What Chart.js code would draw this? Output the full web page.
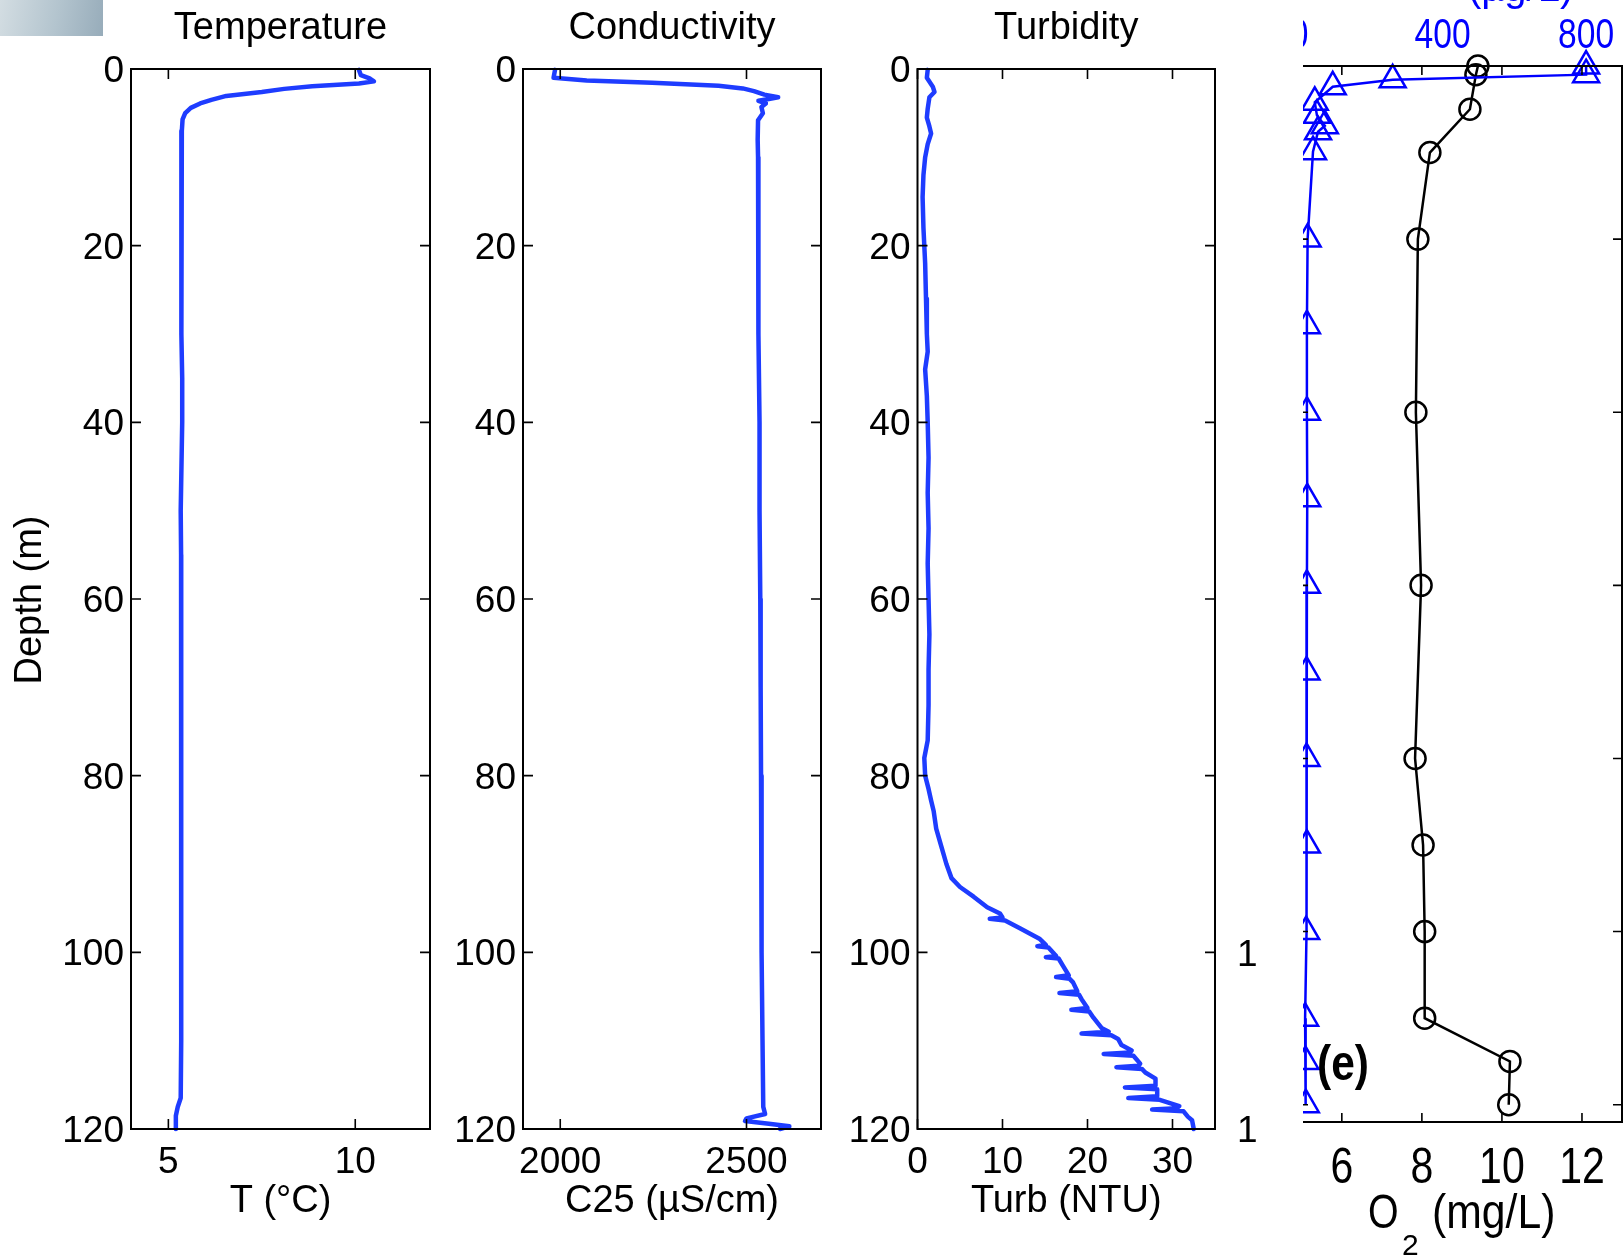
<!DOCTYPE html>
<html>
<head>
<meta charset="utf-8">
<script src="https://cdn.jsdelivr.net/npm/chart.js@4.4.0/dist/chart.umd.min.js"></script>
<style>
  body { margin: 0; background: #fff; width: 1624px; height: 1260px; overflow: hidden; position: relative; }
  canvas { position: absolute; left: 0; top: 0; }
  #corner { position: absolute; left: 0; top: 0; width: 103px; height: 36px;
    background: linear-gradient(100deg, #d3dde2 0%, #b3c4ce 55%, #97acba 100%); }
  #crop { position: absolute; left: 1303px; top: 0; width: 321px; height: 1260px; overflow: hidden; }
  #crop canvas { left: -1303px; }
</style>
</head>
<body>
<div id="corner"></div>
<canvas id="temp" width="1624" height="1260"></canvas>
<canvas id="cond" width="1624" height="1260"></canvas>
<canvas id="turb" width="1624" height="1260"></canvas>
<div id="crop"><canvas id="oxy" width="1624" height="1260"></canvas></div>

<script>
// depth ticks shared by the CTD panels
const depthTicks = [0, 20, 40, 60, 80, 100, 120];

// temperature profile (deg C)
const tempDepth = [0.1, 0.7, 1.1, 1.4, 1.65, 1.95, 2.25, 2.6, 3.05, 3.5, 3.9, 4.4, 5.0, 5.7, 7, 10, 15, 20, 25, 30, 35, 40, 45, 50, 55, 60, 70, 80, 90, 100, 110, 116.5, 117.5, 118.5, 120];
const tempVals = [10.1, 10.15, 10.4, 10.5, 10.1, 8.85, 8.1, 7.5, 6.55, 6.15, 5.85, 5.6, 5.45, 5.38, 5.36, 5.35, 5.34, 5.34, 5.35, 5.36, 5.37, 5.37, 5.35, 5.33, 5.34, 5.34, 5.35, 5.35, 5.34, 5.34, 5.34, 5.33, 5.25, 5.2, 5.2];
const tempTicks = [5, 10];

// conductivity profile (uS/cm)
const condDepth = [0.1, 1.0, 1.3, 1.55, 1.9, 2.2, 2.5, 2.9, 3.2, 3.4, 3.6, 3.9, 4.3, 5.0, 5.8, 8, 10, 20, 30, 40, 50, 60, 70, 80, 90, 100, 110, 117.5, 118.3, 118.8, 119.1, 119.4, 119.7, 120];
const condVals = [1986, 1982, 2071, 2247, 2425, 2490, 2520, 2548, 2585, 2560, 2532, 2552, 2540, 2544, 2531, 2530, 2531, 2531, 2533, 2535, 2535, 2537, 2538, 2539, 2540, 2541, 2543, 2545, 2550, 2500, 2496, 2560, 2615, 2590];
const condTicks = [2000, 2500];

// turbidity profile (NTU)
const turbDepth = [0.1, 1.0, 2.0, 2.6, 3.2, 4.5, 5.5, 6.5, 7.3, 8.5, 10, 12, 14.5, 18, 22, 26, 30, 32, 34, 37, 40, 44, 48, 52, 56, 60, 64, 68, 72, 76, 78, 80, 81.5, 82.8, 84, 86, 88, 90, 91.6, 92.6, 93.7, 94.9, 95.6,
  96.05, 96.2, 96.4, 97.3, 98.5, 99.15, 99.3, 99.45, 100.2, 100.4, 100.55, 100.7, 101.5, 102.6, 102.8, 103.0, 103.4, 104.4, 104.6, 104.8, 105.3, 106.3, 106.5, 106.7, 107.4, 108.6, 109.0, 109.2, 109.4, 109.8, 110.5,
  111.1, 111.35, 111.5, 111.7, 112.6, 112.85, 113.0, 113.2, 113.6, 114.3, 115.1, 115.3, 115.5, 116.3, 116.5, 116.7, 117.4, 117.65, 117.8, 118.0, 118.6, 119.0, 120];
const turbVals = [1.2, 1.1, 1.8, 2.0, 1.4, 1.2, 1.1, 1.4, 1.6, 1.2, 0.9, 0.7, 0.6, 0.7, 0.9, 1.0, 1.1, 1.2, 0.9, 1.1, 1.2, 1.3, 1.2, 1.3, 1.2, 1.3, 1.4, 1.3, 1.3, 1.2, 0.8, 0.9, 1.3, 1.6, 1.9, 2.2, 2.8, 3.4, 4.0, 5.0, 6.6, 8.2, 9.7,
  10.0, 8.5, 10.3, 12.1, 14.4, 15.1, 14.1, 15.4, 16.1, 16.3, 15.1, 16.6, 17.1, 17.8, 16.3, 17.9, 18.3, 18.8, 16.7, 19.0, 19.3, 20.0, 18.1, 20.2, 20.7, 21.7, 22.5, 19.3, 22.8, 23.6, 24.0,
  25.2, 25.0, 21.9, 25.4, 26.2, 26.0, 23.4, 26.4, 26.8, 28.0, 28.0, 24.4, 28.2, 28.2, 24.8, 28.5, 30.8, 30.5, 27.6, 31.3, 31.8, 32.3, 32.5];
const turbTicks = [0, 10, 20, 30];

// bottle samples: dissolved oxygen (mg/L) and chlorophyll (ug/L)
const oxyDepth = [0, 1, 5, 10, 20, 40, 60, 80, 90, 100, 110, 115, 120];
const oxyVals = [9.4, 9.35, 9.2, 8.2, 7.9, 7.85, 7.98, 7.83, 8.03, 8.07, 8.07, 10.2, 10.17];
const oxyTicks = [6, 8, 10, 12];
const chlDepth = [0, 1, 1.6, 2.4, 4.2, 5.7, 6.9, 7.6, 9.9, 20, 30, 40, 50, 60, 70, 80, 90, 100, 110, 115, 120];
const chlVals = [800, 800, 261, 94, 44, 50, 72, 53, 39, 24, 22, 22, 23, 22, 21, 21, 22, 20, 17, 18, 19];
const chlTicks = [0, 400, 800];

const FONT = "'Liberation Sans', Arial, Helvetica, sans-serif";
const BLUE = '#1e3cff';

const pts = (xs, ys) => xs.map((v, i) => ({ x: v, y: ys[i] }));

function txt(ctx, s, x, y, o) {
  ctx.save();
  ctx.font = (o.weight || 'normal') + ' ' + o.size + 'px ' + FONT;
  ctx.fillStyle = o.color || '#000';
  ctx.textAlign = o.align || 'center';
  ctx.textBaseline = 'alphabetic';
  ctx.translate(x, y);
  if (o.rot) ctx.rotate(o.rot);
  ctx.scale(o.sx || 1, 1);
  ctx.fillText(s, 0, 0);
  ctx.restore();
}

// box, inward ticks on all four sides, then the panel's own labels
function deco(p) {
  return {
    id: 'deco',
    afterDraw(chart) {
      const ctx = chart.ctx, a = chart.chartArea;
      const sx = chart.scales.x, sy = chart.scales.y;
      ctx.save();
      ctx.strokeStyle = '#000';
      ctx.lineWidth = 2;
      ctx.strokeRect(a.left, a.top, a.right - a.left, a.bottom - a.top);
      ctx.lineWidth = 1.6;
      ctx.beginPath();
      p.xTicks.forEach(v => {
        const px = sx.getPixelForValue(v);
        ctx.moveTo(px, a.bottom); ctx.lineTo(px, a.bottom - p.tick);
        ctx.moveTo(px, a.top); ctx.lineTo(px, a.top + p.tick);
      });
      depthTicks.forEach(v => {
        const py = sy.getPixelForValue(v);
        ctx.moveTo(a.left, py); ctx.lineTo(a.left + p.tick, py);
        ctx.moveTo(a.right, py); ctx.lineTo(a.right - p.tick, py);
      });
      ctx.stroke();
      ctx.restore();
      p.labels(chart, ctx, a, sx, sy);
    }
  };
}

function ctdLabels(title, xTicks, xLabel, extra) {
  return (chart, ctx, a, sx, sy) => {
    const mid = (a.left + a.right) / 2;
    txt(ctx, title, mid, 39, { size: 38 });
    depthTicks.forEach(v => txt(ctx, String(v), a.left - 7, sy.getPixelForValue(v) + 13, { size: 37, align: 'right' }));
    xTicks.forEach(v => txt(ctx, String(v), sx.getPixelForValue(v), 1173, { size: 37 }));
    txt(ctx, xLabel, mid, 1212, { size: 38 });
    if (extra) extra(ctx);
  };
}

function ctdChart(id, xs, ys, min, max, left, right, xTicks, title, xLabel, extra) {
  return new Chart(document.getElementById(id), {
    type: 'scatter',
    data: { datasets: [{
      data: pts(xs, ys), showLine: true, borderColor: BLUE, borderWidth: 4.5,
      borderJoinStyle: 'round', borderCapStyle: 'round', pointRadius: 0, clip: false
    }] },
    options: {
      responsive: false, animation: false, events: [],
      layout: { autoPadding: false, padding: { left: left, right: 1624 - right, top: 69, bottom: 1260 - 1129 } },
      plugins: { legend: { display: false }, tooltip: { enabled: false } },
      scales: {
        x: { type: 'linear', display: false, min: min, max: max },
        y: { type: 'linear', display: false, min: 0, max: 120, reverse: true }
      }
    },
    plugins: [deco({ xTicks: xTicks, tick: 10, labels: ctdLabels(title, xTicks, xLabel, extra) })]
  });
}

ctdChart('temp', tempVals, tempDepth, 4, 12, 131, 430, tempTicks, 'Temperature', 'T (°C)', ctx => {
  txt(ctx, 'Depth (m)', 41, 600, { size: 38, rot: -Math.PI / 2 });
});
ctdChart('cond', condVals, condDepth, 1900, 2700, 523, 821, condTicks, 'Conductivity', 'C25 (µS/cm)');
ctdChart('turb', turbVals, turbDepth, 0, 35, 917.5, 1215, turbTicks, 'Turbidity', 'Turb (NTU)', ctx => {
  // cut-off remains of a neighbouring axis
  txt(ctx, '1', 1237, 966, { size: 37, align: 'left' });
  txt(ctx, '1', 1237, 1142, { size: 37, align: 'left' });
});

// panel (e): oxygen (bottom axis) and chlorophyll (top axis)
new Chart(document.getElementById('oxy'), {
  type: 'scatter',
  data: { datasets: [
    { data: pts(chlVals, chlDepth), xAxisID: 'x2', showLine: true, order: 0, clip: false,
      borderColor: '#0000ff', borderWidth: 2.5, pointStyle: 'triangle', pointRadius: 15,
      pointBorderWidth: 2.5, pointBorderColor: '#0000ff', pointBackgroundColor: 'rgba(0,0,0,0)' },
    { data: pts(oxyVals, oxyDepth), xAxisID: 'x', showLine: true, order: 1, clip: false,
      borderColor: '#000', borderWidth: 2.5, pointStyle: 'circle', pointRadius: 10.5,
      pointBorderWidth: 2.5, pointBorderColor: '#000', pointBackgroundColor: 'rgba(0,0,0,0)' }
  ] },
  options: {
    responsive: false, animation: false, events: [],
    layout: { autoPadding: false, padding: { left: 1299, right: 2, top: 66, bottom: 1260 - 1122 } },
    plugins: { legend: { display: false }, tooltip: { enabled: false } },
    scales: {
      x: { type: 'linear', display: false, min: 4.93, max: 13 },
      x2: { type: 'linear', display: false, min: 0, max: 900 },
      y: { type: 'linear', display: false, min: 0, max: 122, reverse: true }
    }
  },
  plugins: [deco({ xTicks: oxyTicks, tick: 9, labels: (chart, ctx, a, sx) => {
    const s2 = chart.scales.x2;
    oxyTicks.forEach(v => txt(ctx, String(v), sx.getPixelForValue(v), 1183, { size: 50, sx: 0.82 }));
    chlTicks.forEach(v => txt(ctx, String(v), s2.getPixelForValue(v), 48, { size: 42, sx: 0.8, color: '#0000ff' }));
    txt(ctx, '(µg/L)', 1468, 1, { size: 40, align: 'left', color: '#0000ff' });
    txt(ctx, 'O', 1368, 1228, { size: 48, sx: 0.82, align: 'left' });
    txt(ctx, '2', 1402, 1255, { size: 30, align: 'left' });
    txt(ctx, '(mg/L)', 1432, 1228, { size: 48, sx: 0.89, align: 'left' });
    txt(ctx, '(e)', 1317, 1080, { size: 50, sx: 0.85, weight: 'bold', align: 'left' });
  } })]
});
</script>
</body>
</html>
